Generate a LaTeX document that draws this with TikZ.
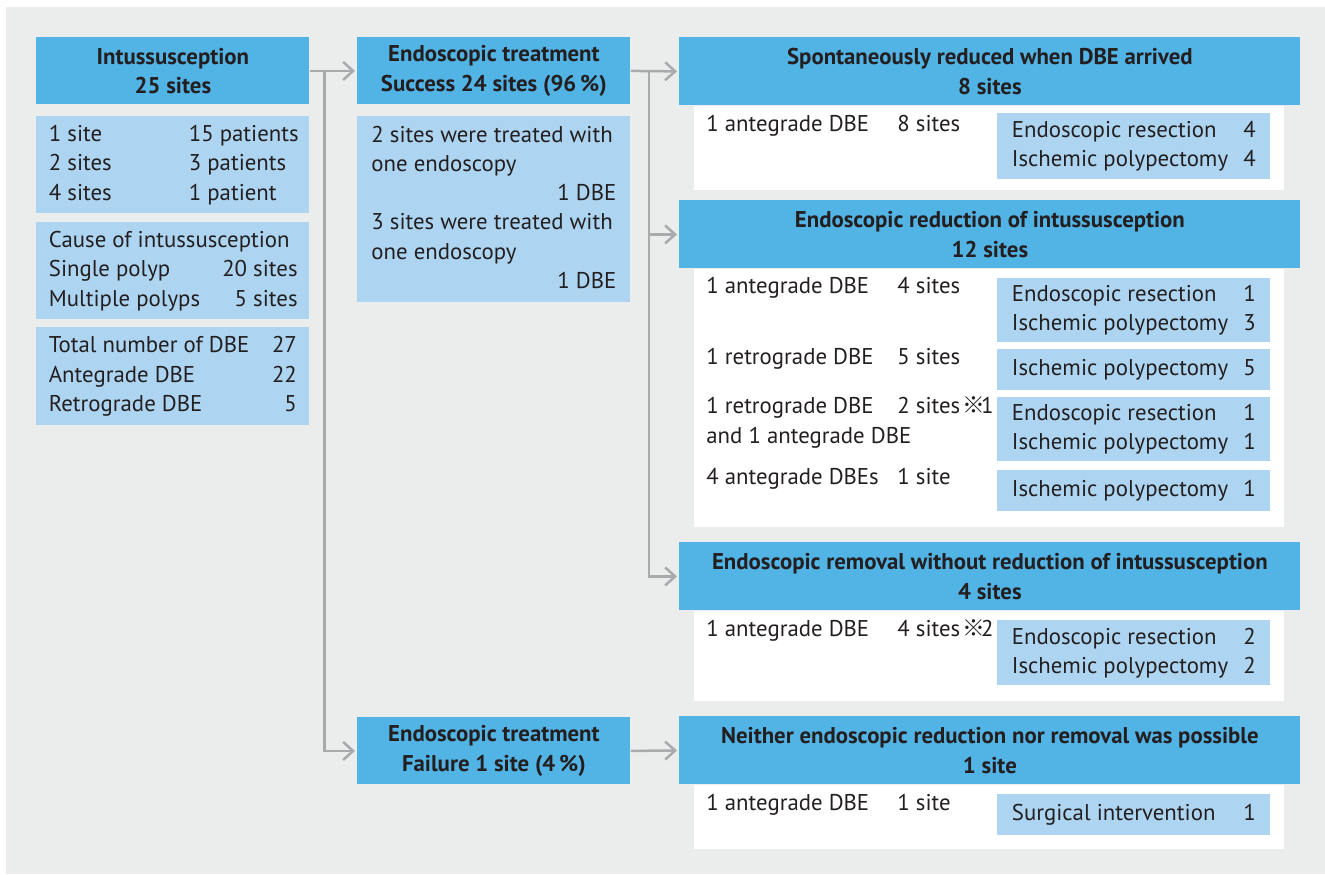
\documentclass[tikz,border=0pt]{standalone}
\usepackage{fontspec}
\setmainfont{PT Sans}
\newfontfamily\markfont{Noto Sans CJK JP}
\usetikzlibrary{arrows.meta,calc}
\definecolor{hdblue}{HTML}{52B3E5}
\definecolor{ltblue}{HTML}{ADD5F1}
\definecolor{bggray}{HTML}{EBECEC}
\definecolor{lkgray}{HTML}{A9AAAC}
\definecolor{txt}{HTML}{231F20}
\newcommand\fsz{\fontsize{11.4}{14.65}\selectfont}
\newcommand\pairs[2]{\makebox[95.5pt][l]{#1}#2}
\newcommand\refmark{\kern1pt{\markfont\bfseries ※}\kern-2pt}

\begin{document}
\begin{tikzpicture}[x=0.5pt,y=-0.5pt]
\tikzstyle{head}=[fill=hdblue, text=txt, font=\fsz\bfseries, align=center,
    inner sep=0pt, anchor=north west, minimum width=136.5pt, minimum height=33.5pt]
\tikzstyle{wide}=[head, minimum width=310.5pt, minimum height=34pt]
\tikzstyle{info}=[fill=ltblue, text=txt, font=\fsz, inner sep=0pt,
    anchor=north west, minimum width=136.5pt]
\tikzstyle{sheet}=[fill=white, inner sep=0pt, anchor=north west, minimum width=295pt]
\tikzstyle{row}=[text=txt, font=\fsz, inner sep=0pt, anchor=base west]
\tikzstyle{link}=[draw=lkgray, line width=1.25pt, shorten >=1pt,
    -{Straight Barb[length=5pt,width=9pt]}]
\useasboundingbox (0,0) rectangle (1325,874);
\fill[bggray] (6,7) rectangle (1325,874);

% left column
\node (intu) [head] at (36,37) {Intussusception\\25 sites};
\node (intuA) [info, minimum height=48.5pt] at (36,116)
    {\begin{tabular*}{124pt}{@{}p{70pt}@{}l@{\extracolsep{\fill}}}
     1 site & 15 patients\\ 2 sites & 3 patients\\ 4 sites & 1 patient
     \end{tabular*}\hspace{2pt}};
\node (intuB) [info, minimum height=48.5pt] at (36,222)
    {\begin{tabular*}{124pt}{@{}l@{\extracolsep{\fill}}r@{\hspace{2pt}}}
     \multicolumn{2}{@{}l}{Cause of intussusception}\\
     Single polyp & 20 sites\\ Multiple polyps & 5 sites
     \end{tabular*}};
\node (intuC) [info, minimum height=49pt] at (36,327)
    {\begin{tabular*}{124pt}{@{}l@{\extracolsep{\fill}}r@{}}
     Total number of DBE & 27\\ Antegrade DBE & 22\\ Retrograde DBE & 5
     \end{tabular*}};

% middle column
\node (succ) [head] at (357,37) {Endoscopic treatment\\Success 24 sites (96\,\%)};
\node (succB) [info, minimum height=93pt] at (357,116)
    {\begin{tabular}{@{}p{122.5pt}@{}}
     2 sites were treated with\\ one endoscopy\\ \hfill 1 DBE\\
     3 sites were treated with\\ one endoscopy\\ \hfill 1 DBE
     \end{tabular}\hspace{9pt}};
\node (fail) [head] at (357,717) {Endoscopic treatment\\Failure 1 site (4\,\%)};

% right column
\node (spont) [wide] at (679,37) {Spontaneously reduced when DBE arrived\\8 sites};
\node (spontB) [sheet, minimum height=42pt] at ([xshift=7.5pt]spont.south west) {};
\node (spontT) [row] at (706,131) {\pairs{1 antegrade DBE}{8 sites}};
\node (spontR) [info, minimum height=33pt] at (997,113)
    {\begin{tabular*}{122pt}{@{}l@{\extracolsep{\fill}}r@{}}
     Endoscopic resection & 4\\ Ischemic polypectomy & 4
     \end{tabular*}\hspace{10pt}};

\node (reduc) [wide] at (679,200) {Endoscopic reduction of intussusception\\12 sites};
\node (reducB) [sheet, minimum height=129pt] at ([xshift=7.5pt]reduc.south west) {};
\node (reducT1) [row] at (706,293) {\pairs{1 antegrade DBE}{4 sites}};
\node (reducT2) [row] at (706,364) {\pairs{1 retrograde DBE}{5 sites}};
\node (reducT3) [row] at (706,413) {\pairs{1 retrograde DBE}{2 sites\refmark1}};
\node (reducT3b) [row] at (706,443) {and 1 antegrade DBE};
\node (reducT4) [row] at (706,484) {\pairs{4 antegrade DBEs}{1 site}};
\node (reducR1) [info, minimum height=32pt] at (997,278)
    {\begin{tabular*}{122pt}{@{}l@{\extracolsep{\fill}}r@{}}
     Endoscopic resection & 1\\ Ischemic polypectomy & 3
     \end{tabular*}\hspace{10pt}};
\node (reducR2) [info, minimum height=20.5pt] at (997,349)
    {\begin{tabular*}{122pt}{@{}l@{\extracolsep{\fill}}r@{}}
     Ischemic polypectomy & 5
     \end{tabular*}\hspace{10pt}};
\node (reducR3) [info, minimum height=32pt] at (997,397)
    {\begin{tabular*}{122pt}{@{}l@{\extracolsep{\fill}}r@{}}
     Endoscopic resection & 1\\ Ischemic polypectomy & 1
     \end{tabular*}\hspace{10pt}};
\node (reducR4) [info, minimum height=20.5pt] at (997,470)
    {\begin{tabular*}{122pt}{@{}l@{\extracolsep{\fill}}r@{}}
     Ischemic polypectomy & 1
     \end{tabular*}\hspace{10pt}};

\node (remov) [wide] at (679,542) {Endoscopic removal without reduction of intussusception\\4 sites};
\node (removB) [sheet, minimum height=45pt] at ([xshift=7.5pt]remov.south west) {};
\node (removT) [row] at (706,636) {\pairs{1 antegrade DBE}{4 sites\refmark2}};
\node (removR) [info, minimum height=32.5pt] at (997,620)
    {\begin{tabular*}{122pt}{@{}l@{\extracolsep{\fill}}r@{}}
     Endoscopic resection & 2\\ Ischemic polypectomy & 2
     \end{tabular*}\hspace{10pt}};

\node (neither) [wide] at (679,716) {Neither endoscopic reduction nor removal was possible\\1 site};
\node (neitherB) [sheet, minimum height=32pt] at ([xshift=7.5pt]neither.south west) {};
\node (neitherT) [row] at (706,810) {\pairs{1 antegrade DBE}{1 site}};
\node (neitherR) [info, minimum height=20.5pt] at (997,794)
    {\begin{tabular*}{122pt}{@{}l@{\extracolsep{\fill}}r@{}}
     Surgical intervention & 1
     \end{tabular*}\hspace{10pt}};

% connectors
\coordinate (j1) at ($(intu.east)+(14.5,0)$);
\coordinate (j2) at ($(succ.east)+(18,0)$);
\draw[link] (intu.east) -- (succ.west);
\draw[link] (j1) |- (fail.west);
\draw[link] (succ.east) -- (spont.west);
\draw[link] (j2) |- (reduc.west);
\draw[link] (j2) |- (remov.west);
\draw[link] (fail.east) -- (neither.west);
\end{tikzpicture}
\end{document}
